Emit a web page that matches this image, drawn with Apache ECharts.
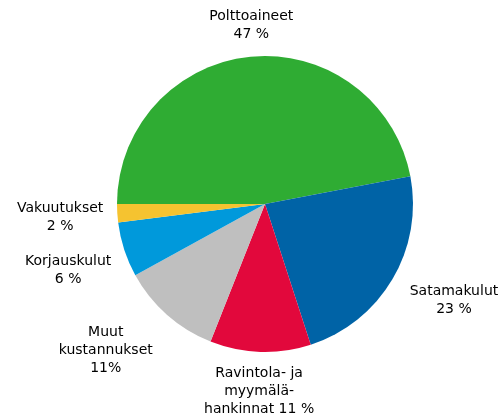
<!DOCTYPE html>
<html>
<head>
<meta charset="utf-8">
<script src="https://cdn.jsdelivr.net/npm/echarts@6/dist/echarts.min.js"></script>
<style>
  html, body { margin: 0; padding: 0; background: #fff; }
  #pie { width: 503px; height: 419px; }
</style>
</head>
<body>
<div id="pie"></div>
<script>
// slices, clockwise from 9 o'clock
var categories = ['Polttoaineet', 'Satamakulut', 'Ravintola- ja myymälähankinnat', 'Muut kustannukset', 'Korjauskulut', 'Vakuutukset'];
var values = [47, 23, 11, 11, 6, 2];
var labelTexts = [
    'Polttoaineet\n47 %',
    'Satamakulut\n23 %',
    'Ravintola- ja\nmyymälä-\nhankinnat 11 %',
    'Muut\nkustannukset\n11%',
    'Korjauskulut\n6 %',
    'Vakuutukset\n2 %'
];
var colors = ['#2fac33', '#0063a6', '#e2083c', '#bfbfbf', '#0099db', '#f5c330'];

var CX = 265, CY = 204, R = 148, START = 180, GAP = 13;
// small hand nudges of label placement (degrees, px)
var angleNudge = [-1, 3.5, 0, -6, 0.5, 0];
var distNudge = [-4, 4, -2, 4, 0, 0];

var total = values.reduce(function (a, b) { return a + b; }, 0);
var midAngles = [];
var acc = 0;
for (var i = 0; i < values.length; i++) {
    var mid = START - (acc + values[i] / 2) / total * 360;
    midAngles.push(mid * Math.PI / 180);
    acc += values[i];
}

var data = [];
for (var i = 0; i < values.length; i++) {
    data.push({ value: values[i], name: categories[i], itemStyle: { color: colors[i] } });
}

var chart = echarts.init(document.getElementById('pie'));
var option = {
    animation: false,
    series: [{
        type: 'pie',
        center: [CX, CY],
        radius: R,
        startAngle: START,
        clockwise: true,
        avoidLabelOverlap: false,
        label: {
            show: true,
            position: 'outside',
            formatter: function (p) { return labelTexts[p.dataIndex]; },
            fontFamily: 'DejaVu Sans',
            fontSize: 14,
            lineHeight: 18,
            color: '#000',
            align: 'center'
        },
        labelLine: { show: false, length: 10, length2: 0 },
        labelLayout: function (params) {
            var k = params.dataIndex;
            var a = midAngles[k];
            var w = params.labelRect.width, h = params.labelRect.height;
            var d = R + GAP + Math.abs(w / 2 * Math.cos(a)) + Math.abs(h / 2 * Math.sin(a)) + distNudge[k];
            a += angleNudge[k] * Math.PI / 180;
            return {
                x: CX + d * Math.cos(a),
                y: CY - d * Math.sin(a),
                align: 'center',
                verticalAlign: 'middle'
            };
        },
        itemStyle: { borderWidth: 0 },
        emphasis: { disabled: true },
        data: data
    }]
};
chart.setOption(option);
</script>
</body>
</html>
